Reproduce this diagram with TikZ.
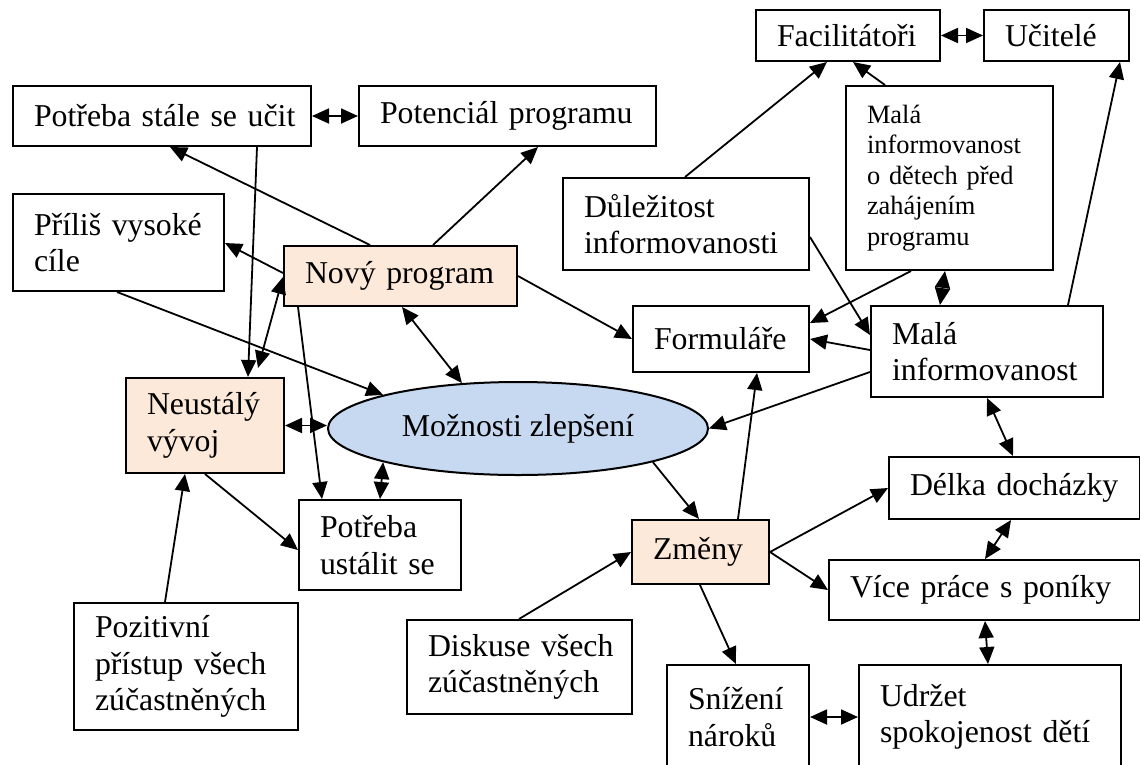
\documentclass[tikz,border=0pt]{standalone}
\usepackage{fontspec}
\setmainfont{Liberation Serif}
\usetikzlibrary{arrows.meta,calc,shapes.geometric}
\newcommand\boxfont{\fontsize{31.8pt}{36.3pt}\selectfont}
\newcommand\notefont{\fontsize{26.4pt}{30.4pt}\selectfont}
\definecolor{peach}{HTML}{FDE9D9}
\definecolor{paleblue}{HTML}{C6D9F1}

\begin{document}
\begin{tikzpicture}[x=1pt,y=-1pt,
  box/.style={draw, line width=2pt, anchor=north west, inner xsep=21pt,
              inner ysep=0pt, font=\boxfont},
  hot/.style={box, fill=peach},
  link/.style={line width=1.8pt, -{Triangle[length=17pt,width=15pt]}},
  both/.style={line width=1.8pt,
               {Triangle[length=17pt,width=15pt]}-{Triangle[length=17pt,width=15pt]}}]
\useasboundingbox (0,0) rectangle (1140,764);

% boxes (text set flush left with the font's own word spaces)
\node[box, text width=256pt, minimum height=60pt] (pse) at (12,85) {Potřeba~stále~se~učit};
\node[box, text width=255pt, minimum height=60pt] (pot) at (358,85) {Potenciál~programu};
\node[box, text width=169pt, minimum height=97pt] (pri) at (12,193) {Příliš~vysoké\\cíle};
\node[hot, text width=191pt, minimum height=60pt] (nov) at (283,245) {Nový~program};
\node[box, text width=204pt, minimum height=92pt] (dul) at (562,177) {Důležitost\\informovanosti};
\node[box, text width=142pt, minimum height=51pt] (fac) at (755,9) {Facilitátoři};
\node[box, text width=103pt, minimum height=51pt] (uci) at (983,9) {Učitelé};
\node[box, text width=165pt, minimum height=184pt, font=\notefont] (mde) at (845,85)
  {Malá\\informovanost\\o~dětech~před\\zahájením\\programu};
\node[box, text width=134pt, minimum height=66pt] (for) at (632,305) {Formuláře};
\node[box, text width=190pt, minimum height=91pt] (mal) at (870,305) {Malá\\informovanost};
\node[hot, text width=116pt, minimum height=95pt] (neu) at (125,377) {Neustálý\\vývoj};
\node[box, text width=120pt, minimum height=90pt] (pus) at (298,499) {Potřeba\\ustálit~se};
\node[box, text width=182pt, minimum height=127pt] (poz) at (73,602) {Pozitivní\\přístup~všech\\zúčastněných};
\node[box, text width=183pt, minimum height=94pt] (dis) at (406,619) {Diskuse~všech\\zúčastněných};
\node[hot, text width=95pt, minimum height=64pt] (zme) at (631,519) {Změny};
\node[box, text width=209pt, minimum height=62pt] (del) at (888,456) {Délka~docházky};
\node[box, text width=269pt, minimum height=60pt] (vic) at (828,559) {Více~práce~s~poníky};
\node[box, text width=100pt, minimum height=104pt] (sni) at (666,664) {Snížení\\nároků};
\node[box, text width=220pt, minimum height=104pt] (udr) at (858,664) {Udržet\\spokojenost~dětí};

\node[ellipse, draw, fill=paleblue, line width=2pt, minimum width=380pt,
      minimum height=93pt, inner sep=0pt, font=\boxfont] (mz) at (518,428.5) {Možnosti zlepšení};

% connectors
\draw[both] (pse.east) -- (pot.west);
\draw[both] (fac.east) -- (uci.west);
\draw[link] ($(nov.north west)+(87,0)$) -- ($(pse.south west)+(158,0)$);
\draw[link] ($(nov.north west)+(0,28)$) -- ($(pri.north east)+(0,50)$);
\draw[link] ($(nov.north west)+(150,0)$) -- ($(pot.south west)+(180,0)$);
\draw[link] (nov.east) -- (for.west);
\draw[link] ($(pse.south west)+(245,0)$) -- ($(neu.north west)+(123,0)$);
\draw[both] ($(nov.north west)+(0,32)$) -- ($(neu.north west)+(133,-9)$);
\draw[link] ($(nov.south west)+(15,0)$) -- ($(pus.north west)+(24,0)$);
\draw[link] ($(pri.south west)+(105,0)$) -- (mz.166);
\draw[both] ($(nov.south west)+(119,0)$) -- (mz.141);
\draw[both] (neu.east) -- (neu.east -| mz.west);
\draw[both] (mz.194) -- ($(pus.north west)+(82,0)$);
\draw[link] ($(neu.south west)+(80,0)$) -- ($(pus.north west)+(0,51)$);
\draw[link] ($(poz.north west)+(92,0)$) -- ($(neu.south west)+(60,0)$);
\draw[link] ($(dis.north west)+(113,0)$) -- ($(zme.north west)+(0,33)$);
\draw[link] (mz.346) -- ($(zme.north west)+(68,0)$);
\draw[link] ($(zme.north west)+(107,0)$) -- ($(for.south west)+(125,0)$);
\draw[link] (zme.east) -- (del.west);
\draw[link] (zme.east) -- (vic.west);
\draw[link] ($(zme.south west)+(69,0)$) -- ($(sni.north west)+(70,0)$);
\draw[both] ($(sni.north east)+(0,53)$) -- ($(udr.north west)+(0,53)$);
\draw[both] ($(vic.south west)+(157,0)$) -- ($(udr.north west)+(130,0)$);
\draw[both] ($(del.south west)+(123,0)$) -- ($(vic.north west)+(157,0)$);
\draw[both] ($(mal.south west)+(117,0)$) -- ($(del.north west)+(125,0)$);
\draw[link] ($(mal.north west)+(0,67)$) -- (mz.east);
\draw[link] ($(mal.north west)+(0,45)$) -- (for.east);
\draw[link] ($(dul.north east)+(0,60)$) -- ($(mal.north west)+(0,30)$);
\draw[link] ($(mde.south west)+(66,0)$) -- ($(for.north east)+(0,18)$);
\draw[both] ($(mde.south west)+(100,0)$) -- ($(mal.north west)+(70,0)$);
\draw[link] ($(dul.north west)+(123,0)$) -- ($(fac.south west)+(72,0)$);
\draw[link] ($(mde.north west)+(40,0)$) -- ($(fac.south west)+(98,0)$);
\draw[link] ($(mal.north west)+(198,0)$) -- ($(uci.south west)+(137,0)$);
\end{tikzpicture}
\end{document}
